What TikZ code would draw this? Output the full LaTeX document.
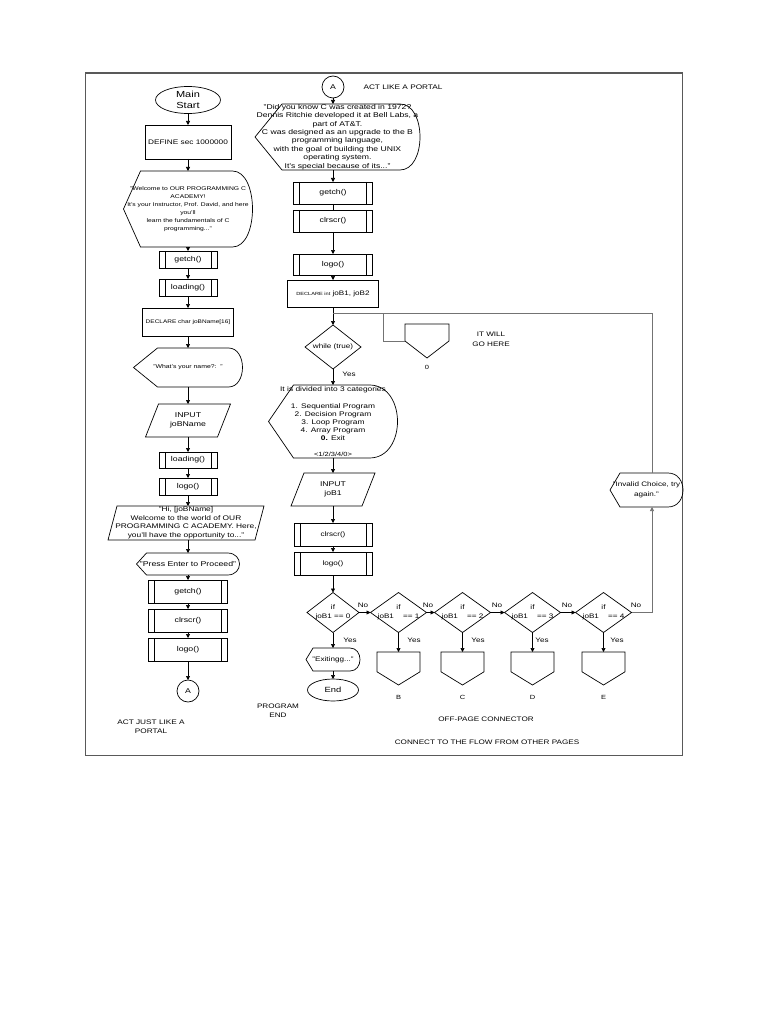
\documentclass[tikz,border=0pt]{standalone}
\usepackage{fontspec}
\setmainfont{Liberation Sans}[FakeStretch=1.25]
\usetikzlibrary{shapes.geometric,arrows.meta,calc}
\begin{document}
\begin{tikzpicture}[x=1pt, y=-1pt, line width=0.7pt,
  every node/.style={inner sep=0pt, outer sep=0pt, align=center},
  ft/.style 2 args={font=\fontsize{#1}{#2}\selectfont},
  arr/.style={-{Triangle[length=4pt,width=4pt]}},
  gl/.style={draw=black!55},
  proc/.style={draw},
  term/.style={draw, ellipse},
  conn/.style={draw, circle, minimum size=22},
  sub/.style={draw, append after command={\pgfextra{
     \draw ([xshift=6pt]\tikzlastnode.north west) -- ([xshift=6pt]\tikzlastnode.south west)
           ([xshift=-6pt]\tikzlastnode.north east) -- ([xshift=-6pt]\tikzlastnode.south east);}}},
  disp/.style 2 args={append after command={\pgfextra{
     \draw (\tikzlastnode.west) -- ([xshift=#1]\tikzlastnode.north west)
       -- ([xshift=-#2]\tikzlastnode.north east)
       .. controls ([xshift=#2/3]\tikzlastnode.north east) and ([xshift=#2/3]\tikzlastnode.south east)
       .. ([xshift=-#2]\tikzlastnode.south east)
       -- ([xshift=#1]\tikzlastnode.south west) -- cycle;}}},
  io/.style={append after command={\pgfextra{
     \draw (\tikzlastnode.south west) -- ([xshift=#1]\tikzlastnode.north west)
       -- (\tikzlastnode.north east) -- ([xshift=-#1]\tikzlastnode.south east) -- cycle;}}},
  dia/.style={append after command={\pgfextra{
     \draw (\tikzlastnode.north) -- (\tikzlastnode.east) -- (\tikzlastnode.south)
       -- (\tikzlastnode.west) -- cycle;}}},
  offp/.style={append after command={\pgfextra{
     \draw (\tikzlastnode.north west) -- (\tikzlastnode.north east)
       -- ($(\tikzlastnode.north east)!#1!(\tikzlastnode.south east)$)
       -- (\tikzlastnode.south)
       -- ($(\tikzlastnode.north west)!#1!(\tikzlastnode.south west)$) -- cycle;}}}
]
\useasboundingbox (0,0) rectangle (768,1024);
\fill[white] (0,0) rectangle (768,1024);
\draw[line width=1.6pt, draw=black!65] (85.5,73) rectangle (682.5,755.5);

% ---------------- left column ----------------
\node[term, minimum width=65, minimum height=27, ft={8.8}{11}] (start) at (188,100) {Main\\Start};
\node[proc, minimum width=86, minimum height=34, ft={6.6}{8}] (define) at (188,142) {DEFINE sec 1000000};
\node[disp={17}{20}, minimum width=129, minimum height=76, ft={5.4}{8}] (welcome) at (188,209)
  {"Welcome to OUR PROGRAMMING C\\ACADEMY!\\It's your Instructor, Prof. David, and here\\you'll\\learn the fundamentals of C\\programming..."};
\node[sub, minimum width=58, minimum height=17, ft={7}{8}] (getch1) at (188,259.5) {getch()};
\node[sub, minimum width=58, minimum height=17, ft={7}{8}] (load1) at (188,287.5) {loading()};
\node[proc, minimum width=91, minimum height=28, ft={5.2}{6}] (declchar) at (188,322) {DECLARE char joBName[16]};
\node[disp={24}{14}, minimum width=109, minimum height=39, ft={5.5}{7}] (askname) at (188,367.5) {"What's your name?:\ \ "};
\node[io=13, minimum width=85, minimum height=33, ft={7}{9}] (inname) at (188,420.5) {INPUT\\joBName};
\node[sub, minimum width=58, minimum height=16, ft={7}{8}] (load2) at (188,460) {loading()};
\node[sub, minimum width=58, minimum height=17, ft={7}{8}] (logo1) at (188,486.5) {logo()};
\node[io=9, minimum width=156, minimum height=34, ft={6.7}{8.5}] (hi) at (186,523)
  {"Hi, [joBName]\\Welcome to the world of OUR\\PROGRAMMING C ACADEMY. Here,\\you'll have the opportunity to..."};
\node[disp={10}{12}, minimum width=103, minimum height=22, ft={7}{8}] (press) at (188,564) {"Press Enter to Proceed"};
\node[sub, minimum width=79, minimum height=23, ft={7}{8}] (getch2) at (188,591.5) {getch()};
\node[sub, minimum width=79, minimum height=23, ft={7}{8}] (clr1) at (188,620.5) {clrscr()};
\node[sub, minimum width=79, minimum height=23, ft={7}{8}] (logo2) at (188,649.5) {logo()};
\node[conn, ft={7}{8}] (A1) at (188,691) {A};
\node[ft={6.6}{9}] (actjust) at (151,726.5) {ACT JUST LIKE A\\PORTAL};

\foreach \a/\b in {start/define, define/welcome, welcome/getch1, getch1/load1, load1/declchar,
  declchar/askname, askname/inname, inname/load2, load2/logo1, press/getch2, getch2/clr1, clr1/logo2, logo2/A1}
  \draw[arr] (\a) -- (\b);
\draw[arr] (logo1.south) -- (logo1.south |- hi.north);
\draw[arr] (press.north |- hi.south) -- (press.north);

% ---------------- middle column ----------------
\node[conn, ft={7}{8}] (A2) at (333,87) {A};
\node[ft={6.6}{8}] (actlike) at (403,87) {ACT LIKE A PORTAL};
\node[disp={27}{20}, minimum width=165, minimum height=66, ft={6.9}{8.4}] (did) at (337.5,137)
  {"Did you know C was created in 1972?\\Dennis Ritchie developed it at Bell Labs, a\\part of AT\&T.\\C was designed as an upgrade to the B\\programming language,\\with the goal of building the UNIX\\operating system.\\It's special because of its..."};
\node[sub, minimum width=79, minimum height=22, ft={7}{8}] (getch3) at (333,193) {getch()};
\node[sub, minimum width=79, minimum height=22, ft={7}{8}] (clr2) at (333,221) {clrscr()};
\node[sub, minimum width=79, minimum height=21, ft={7}{8}] (logo3) at (333,264.5) {logo()};
\node[proc, minimum width=91, minimum height=27, ft={6.5}{8}] (declint) at (333,293.5)
  {{\fontsize{4.5}{5}\selectfont DECLARE int} joB1, joB2};
\coordinate (jn) at (333,313);
\coordinate (br) at (383,313);
\coordinate (tr) at (652,313);
\node[dia, minimum width=56, minimum height=44, ft={6.5}{8}] (while) at (333,347) {while (true)};
\node[ft={6.5}{7}] (yesw) at (349,374) {Yes};
\node[disp={25}{28}, minimum width=129, minimum height=73, ft={6.7}{8}] (cat) at (333,421.5)
  {It is divided into 3 categories\\[9pt]1. Sequential Program\\2. Decision Program\\3. Loop Program\\4. Array Program\\\textbf{0.} Exit\\[8pt]{\fontsize{6}{8}\selectfont <1/2/3/4/0>}};
\node[io=13, minimum width=84, minimum height=33, ft={6.9}{9}] (injob) at (333,489.5) {INPUT\\joB1};
\node[sub, minimum width=78, minimum height=23, ft={6.5}{8}] (clr3) at (333,534.5) {clrscr()};
\node[sub, minimum width=78, minimum height=23, ft={6.5}{8}] (logo4) at (333,563.5) {logo()};

\node[dia, minimum width=52, minimum height=40, ft={6.5}{9}] (d0) at (333,612.5) {if\\joB1 == 0};
\node[dia, minimum width=56, minimum height=40, ft={6.5}{9}] (d1) at (398.5,612.5) {if\\joB1\ \ \ \ == 1};
\node[dia, minimum width=56, minimum height=40, ft={6.5}{9}] (d2) at (462.5,612.5) {if\\joB1\ \ \ \ == 2};
\node[dia, minimum width=56, minimum height=40, ft={6.5}{9}] (d3) at (532.5,612.5) {if\\joB1\ \ \ \ == 3};
\node[dia, minimum width=56, minimum height=40, ft={6.5}{9}] (d4) at (603.5,612.5) {if\\joB1\ \ \ \ == 4};

\foreach \n/\x in {0/363, 1/428, 2/497, 3/567, 4/636}
  \node[ft={6.5}{7}] (no\n) at (\x,605) {No};
\foreach \n/\x in {0/350, 1/414, 2/478, 3/542, 4/617}
  \node[ft={6.5}{7}] (yes\n) at (\x,640) {Yes};

\node[disp={7}{10}, minimum width=54, minimum height=23, ft={6.5}{8}] (exiting) at (333,659.5) {"Exitingg..."};
\node[term, minimum width=51, minimum height=22, ft={7.5}{9}] (endn) at (333,690) {End};
\node[ft={6.5}{9}] (progend) at (278,711) {PROGRAM\\END};

\node[offp=0.5, minimum width=44, minimum height=34] (p0) at (427,341) {};
\node[ft={6}{7}] (l0) at (427,367) {0};
\node[ft={6.5}{10}] (itwill) at (491,339) {IT WILL\\GO HERE};

\foreach \n/\x in {B/398.5, C/462.5, D/532.5, E/603.5} {
  \node[offp=0.6, minimum width=43, minimum height=33] (p\n) at (\x,668.5) {};
  \node[ft={6}{7}] (l\n) at (\x,697) {\n};
}

\node[disp={10}{15}, minimum width=73, minimum height=34, ft={6.5}{10}] (inv) at (646.5,490) {"Invalid Choice, try\\again."};

\node[ft={6.5}{8}] (offtxt) at (486,719) {OFF-PAGE CONNECTOR};
\node[ft={6.5}{8}] (flowtxt) at (487,742.5) {CONNECT TO THE FLOW FROM OTHER PAGES};

% connectors middle
\draw[arr] (A2) -- (A2 |- did.north);
\draw[arr] (getch3.north |- did.south) -- (getch3.north);
\draw (getch3) -- (clr2);
\foreach \a/\b in {clr2/logo3, logo3/declint, while/cat, cat/injob, injob/clr3, clr3/logo4, logo4/d0,
  d0/exiting, exiting/endn, d0/d1, d1/d2, d2/d3, d3/d4, d1/pB, d2/pC, d3/pD, d4/pE}
  \draw[arr] (\a) -- (\b);
\draw (declint.south) -- (jn);
\draw[arr] (jn) -- (while.north);
\draw[gl] (jn) -- (tr) -- (tr |- inv.north);
\draw[gl] (br) |- (p0.west);
\draw[gl, arr] (d4.east) -| (inv.south -| tr);
\end{tikzpicture}
\end{document}
